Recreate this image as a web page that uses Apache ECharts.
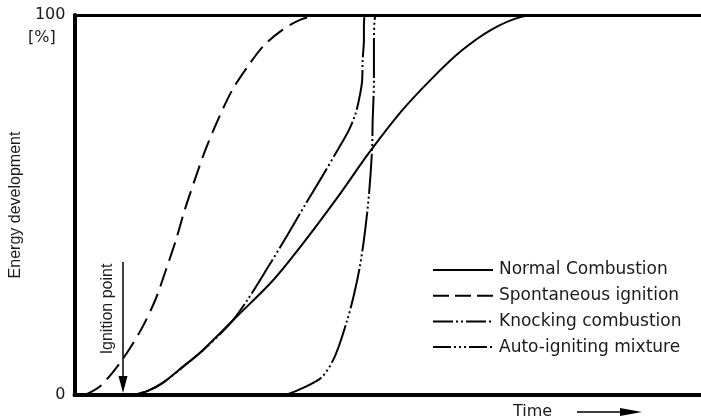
<!DOCTYPE html>
<html><head><meta charset="utf-8">
<script src="https://cdn.jsdelivr.net/npm/echarts@6/dist/echarts.min.js"></script>
<style>html,body{margin:0;padding:0;background:#fff}#c{width:701px;height:419px}</style>
</head><body><div id="c"></div>
<script>
// Time axis 0..100 (arbitrary units), energy development 0..100 %
const normalX = [9.4, 11.7, 14.1, 17.3, 20.5, 26.0, 31.6, 36.3, 41.9, 47.0, 52.2, 57.0, 61.7, 66.5, 71.3, 75.2];
const normalY = [0, 1.1, 3.2, 7.4, 11.8, 20.8, 30.0, 39.5, 51.8, 63.7, 74.7, 83.2, 90.5, 96.1, 99.5, 100];

const spontX = [1.7, 4.3, 7.6, 10.6, 12.9, 14.6, 16.2, 17.6, 19.2, 20.9, 22.9, 25.2, 27.8, 30.3, 33.2, 36.0, 38.7];
const spontY = [0, 2.6, 9.2, 17.1, 25.0, 32.9, 40.8, 48.7, 56.6, 64.5, 72.4, 80.3, 86.8, 92.1, 96.1, 98.7, 100];

const knockX = [9.4, 11.7, 14.1, 17.3, 20.5, 24.8, 27.6, 30.8, 34.0, 36.8, 39.5, 42.2, 43.8, 44.8, 45.4, 45.9, 46.0, 46.2, 46.2, 46.3];
const knockY = [0, 1.1, 3.2, 7.4, 11.8, 18.7, 25.0, 33.4, 42.1, 50.0, 57.4, 65.0, 69.7, 73.7, 77.6, 82.4, 88.2, 93.4, 97.4, 100];

const autoX = [33.7, 36.4, 39.5, 41.6, 43.5, 44.6, 45.6, 46.4, 47.0, 47.5, 47.6, 47.8, 47.8, 47.9, 48.1];
const autoY = [0, 1.8, 4.7, 10.3, 19.5, 26.3, 34.2, 43.4, 52.6, 64.5, 72.4, 82.9, 93.4, 98.7, 100];

const seriesNames = ['Normal Combustion', 'Spontaneous ignition', 'Knocking combustion', 'Auto-igniting mixture'];
const yTickLabels = ['0', '100'];
const yUnit = '[%]';
const yTitle = 'Energy development';
const xTitle = 'Time';
const annotation = 'Ignition point';

const zip = (xs, ys) => xs.map((x, i) => [x, ys[i]]);
const dashes = [
  'solid',
  [19, 8],
  [40, 3, 2, 3, 2, 3],
  [40, 3, 2, 3, 2, 3, 2, 3]
];
const legendDashes = [null, [16, 6], [20, 3, 2, 3, 2, 3], [18, 3, 2, 3, 2, 3, 2, 3]];
const datas = [zip(normalX, normalY), zip(spontX, spontY), zip(knockX, knockY), zip(autoX, autoY)];

const TXT = '#1a1a1a';
const chart = echarts.init(document.getElementById('c'), null, {renderer: 'canvas'});

const legendGraphics = [];
seriesNames.forEach((n, i) => {
  const y = 270 + i * 25.7;
  legendGraphics.push({
    type: 'line', shape: {x1: 433, y1: y, x2: 493, y2: y},
    style: {stroke: '#000', lineWidth: 2, lineDash: legendDashes[i] || null}
  });
  legendGraphics.push({
    type: 'text', x: 499, y: y,
    style: {text: n, fill: TXT, font: '17px "DejaVu Sans"', textVerticalAlign: 'middle'}
  });
});

chart.setOption({
  animation: false,
  backgroundColor: '#fff',
  grid: {left: 71, right: 0, top: 15, bottom: 24},
  xAxis: [
    {type: 'value', min: 0, max: 100, position: 'bottom',
     axisLine: {show: true, lineStyle: {color: '#000', width: 4}},
     axisTick: {show: false}, axisLabel: {show: false}, splitLine: {show: false}},
    {type: 'value', min: 0, max: 100, position: 'top',
     axisLine: {show: true, lineStyle: {color: '#000', width: 3}},
     axisTick: {show: false}, axisLabel: {show: false}, splitLine: {show: false}}
  ],
  yAxis: {
    type: 'value', min: 0, max: 100, interval: 100,
    axisLine: {show: true, lineStyle: {color: '#000', width: 4}},
    axisTick: {show: false}, splitLine: {show: false},
    axisLabel: {
      margin: 9, color: TXT, fontSize: 16, fontFamily: 'DejaVu Sans',
      formatter: v => yTickLabels[v === 100 ? 1 : 0]
    },
    name: yTitle, nameLocation: 'middle', nameGap: 46, nameRotate: 90,
    nameTextStyle: {color: TXT, fontSize: 16, fontFamily: 'Liberation Sans'}
  },
  series: datas.map((d, i) => ({
    name: seriesNames[i], type: 'line', data: d, xAxisIndex: 0,
    symbol: 'none', smooth: 0.3, clip: false,
    lineStyle: {color: '#000', width: 2, type: dashes[i]}
  })),
  graphic: [
    {type: 'text', x: 28, y: 38,
     style: {text: yUnit, fill: TXT, font: '16px "DejaVu Sans"', textVerticalAlign: 'middle'}},
    {type: 'text', x: 108, y: 309, rotation: Math.PI / 2,
     style: {text: annotation, fill: TXT, font: '16px "Liberation Sans"', textAlign: 'center', textVerticalAlign: 'middle'}},
    {type: 'line', shape: {x1: 123, y1: 262, x2: 123, y2: 378},
     style: {stroke: '#000', lineWidth: 1.5}},
    {type: 'polygon', shape: {points: [[118.5, 376], [127.5, 376], [123, 393]]},
     style: {fill: '#000'}},
    {type: 'text', x: 513, y: 412,
     style: {text: xTitle, fill: TXT, font: '16px "DejaVu Sans"', textVerticalAlign: 'middle'}},
    {type: 'line', shape: {x1: 577, y1: 412, x2: 625, y2: 412},
     style: {stroke: '#000', lineWidth: 1.5}},
    {type: 'polygon', shape: {points: [[620, 408], [642, 412], [620, 416]]},
     style: {fill: '#000'}}
  ].concat(legendGraphics)
});
</script></body></html>
